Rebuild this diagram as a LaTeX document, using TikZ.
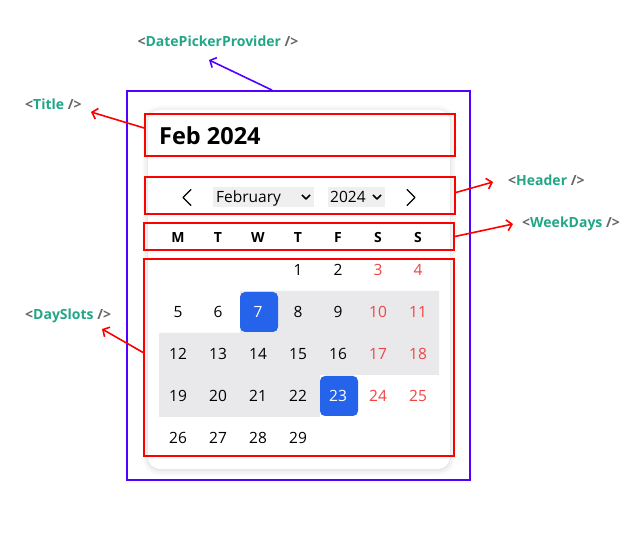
\documentclass[tikz,border=0pt]{standalone}
\usepackage{fontspec}
\setmainfont{Open Sans}
\usetikzlibrary{arrows.meta,shadows.blur}
\definecolor{provider}{HTML}{5200FF}
\definecolor{compred}{HTML}{FF0000}
\definecolor{lblteal}{HTML}{22A687}
\definecolor{lblgray}{HTML}{666666}
\definecolor{selblue}{HTML}{2563EB}
\definecolor{wkend}{HTML}{EF4444}
\definecolor{band}{HTML}{E9E9EC}
\definecolor{selgray}{HTML}{EFEFEF}
\tikzset{
  redbox/.style={draw=compred, line width=1.8pt, inner sep=0pt},
  provbox/.style={draw=provider, line width=1.8pt, inner sep=0pt},
  lbl/.style={font=\bfseries\fontsize{14}{16}\selectfont, inner sep=0pt},
  redarrow/.style={draw=compred, line width=1.6pt, -{Straight Barb[length=5pt,width=11pt,line width=1.6pt]}},
  bluearrow/.style={draw=provider, line width=1.6pt, -{Straight Barb[length=5pt,width=11pt,line width=1.6pt]}},
  daynum/.style={font=\fontsize{15.5}{17}\selectfont, inner sep=0pt, text height=11pt, text depth=0pt},
  wkday/.style={font=\bfseries\fontsize{14}{16}\selectfont, inner sep=0pt},
  selbox/.style={fill=selgray, inner sep=0pt},
  selday/.style={fill=selblue, rounded corners=5pt, minimum width=38pt, minimum height=40pt, inner sep=0pt},
  chev/.style={line width=1.2pt, line cap=round, line join=round},
  smallchev/.style={line width=1.5pt, line join=round},
}
\begin{document}
\begin{tikzpicture}[x=1pt,y=-1pt]
\useasboundingbox (0,0) rectangle (633,534);
% card
\path[fill=white, rounded corners=12pt, blur shadow={shadow xshift=0pt, shadow yshift=-1pt, shadow blur radius=6pt, shadow opacity=18}] (148,110) rectangle (450,469);
% gray band
\fill[band] (240,291) -- (439,291) -- (439,375) -- (320,375) -- (320,417) -- (159,417) -- (159,333) -- (240,333) -- cycle;
% provider box
\node[provbox, minimum width=343pt, minimum height=389pt] (provider) at (298.5,285.5) {};
% title
\node[redbox, minimum width=310pt, minimum height=42pt] (title) at (300,135) {};
\node[anchor=base west, inner sep=0pt, font=\bfseries\fontsize{23.5}{27}\selectfont] (titletext) at (159,145) {Feb 2024};
% header
\node[redbox, minimum width=310pt, minimum height=37pt] (header) at (300,195.5) {};
\draw[chev] (191,189.5) -- (183,197.5) -- (191,205.5);
\draw[chev] (407,189.5) -- (415,197.5) -- (407,205.5);
\node[selbox, minimum width=101pt, minimum height=20pt] (monthsel) at (263.5,197) {};
\node[anchor=base west, inner sep=0pt, font=\fontsize{15.5}{17}\selectfont] (monthtext) at (216,202.5) {February};
\draw[smallchev] (302,195) -- (306,199) -- (310,195);
\node[selbox, minimum width=57pt, minimum height=20pt] (yearsel) at (356.5,197) {};
\node[anchor=base west, inner sep=0pt, font=\fontsize{15.5}{17}\selectfont] (yeartext) at (330,202.5) {2024};
\draw[smallchev] (373,195) -- (377,199) -- (381,195);
% weekdays
\node[redbox, minimum width=310pt, minimum height=27pt] (weekdays) at (299,236.5) {};
\foreach \l [count=\i from 0] in {M,T,W,T,F,S,S} {
  \node[wkday] (wd\i) at (178+40*\i,237.5) {\l};
}
% day slots
\node[redbox, minimum width=310pt, minimum height=197pt] (dayslots) at (299,357.5) {};
\node[selday] (sel7) at (259,312) {};
\node[selday] (sel23) at (339,396) {};
\foreach \n in {1,...,29} {
  \pgfmathtruncatemacro{\c}{mod(\n+2,7)}
  \pgfmathtruncatemacro{\r}{floor((\n+2)/7)}
  \ifnum\n=7 \def\col{white}\else\ifnum\n=23 \def\col{white}\else
    \ifnum\c>4 \def\col{wkend}\else\def\col{black}\fi\fi\fi
  \node[daynum, text=\col] (d\n) at (178+40*\c,270+42*\r) {\n};
}
% labels
\node[lbl] (lprov) at (218,41) {\textcolor{lblgray}{<}\textcolor{lblteal}{DatePickerProvider}\ \textcolor{lblgray}{/>}};
\node[lbl, anchor=west] (ltitle) at (25,104) {\textcolor{lblgray}{<}\textcolor{lblteal}{Title}\ \textcolor{lblgray}{/>}};
\node[lbl, anchor=west] (lheader) at (508,180) {\textcolor{lblgray}{<}\textcolor{lblteal}{Header}\ \textcolor{lblgray}{/>}};
\node[lbl, anchor=west] (lweek) at (522,224) {\textcolor{lblgray}{<}\textcolor{lblteal}{WeekDays}\ \textcolor{lblgray}{/>}};
\node[lbl, anchor=west] (ldays) at (25,316) {\textcolor{lblgray}{<}\textcolor{lblteal}{DaySlots}\ \textcolor{lblgray}{/>}};
% arrow tips
\coordinate (tprov) at (209,60);
\coordinate (ttitle) at (91,112);
\coordinate (theader) at (493,182);
\coordinate (tweek) at (513,224);
\coordinate (tdays) at (102,329);
\draw[bluearrow] ([xshift=-26.5pt]provider.north) -- (tprov);
\draw[redarrow] ([yshift=7pt]title.west) -- (ttitle);
\draw[redarrow] ([yshift=3pt]header.east) -- (theader);
\draw[redarrow] (weekdays.east) -- (tweek);
\draw[redarrow] ([yshift=5pt]dayslots.west) -- (tdays);
\end{tikzpicture}
\end{document}
